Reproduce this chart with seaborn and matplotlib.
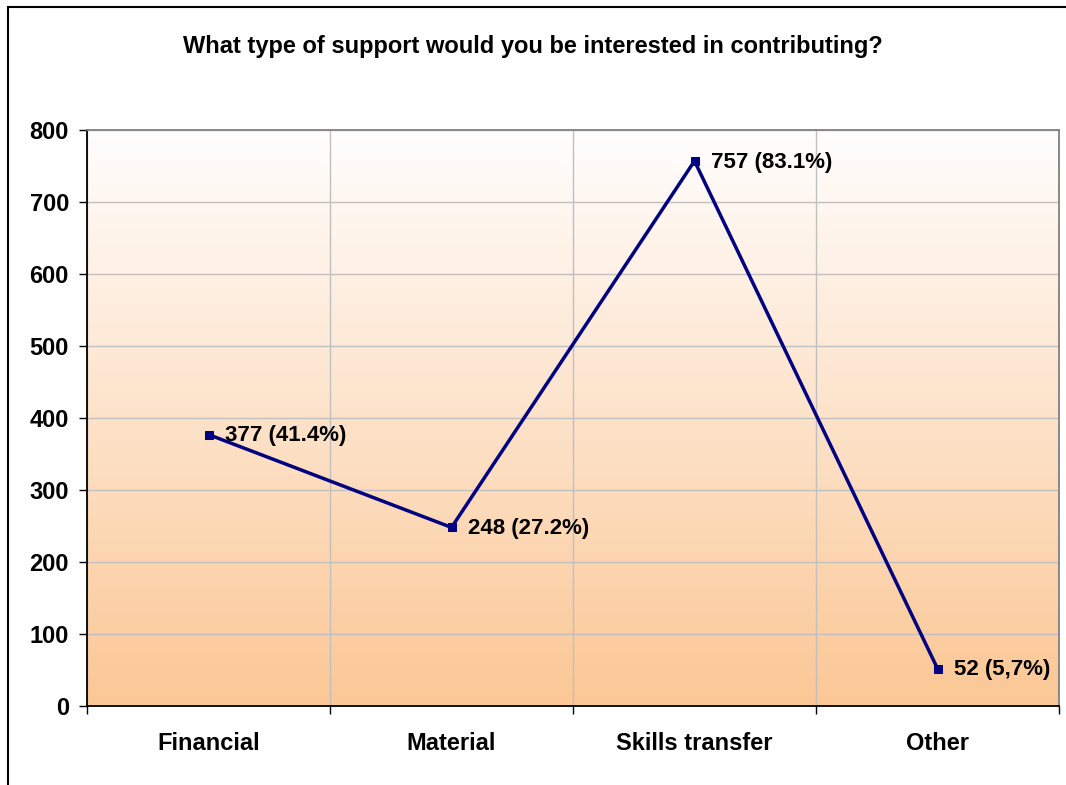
import numpy as np
import pandas as pd
import seaborn as sns
import matplotlib.pyplot as plt
from matplotlib.colors import LinearSegmentedColormap
from matplotlib.patches import Rectangle

# chart data
categories = ['Financial', 'Material', 'Skills transfer', 'Other']
counts = [377, 248, 757, 52]
labels = ['377 (41.4%)', '248 (27.2%)', '757 (83.1%)', '52 (5,7%)']

df = pd.DataFrame({'category': categories, 'count': counts, 'pos': range(len(categories))})

sns.set_style('white')
plt.rcParams['font.family'] = ['Liberation Sans', 'DejaVu Sans']
plt.rcParams['text.color'] = 'black'
plt.rcParams['xtick.color'] = 'black'
plt.rcParams['ytick.color'] = 'black'

fig = plt.figure(figsize=(10.66, 7.85), dpi=100)
ax = fig.add_axes([87 / 1066, 1 - 706 / 785, 972 / 1066, 576 / 785])

# outer chart border (only top and left visible)
fig.patches.append(Rectangle((8 / 1066, -0.1), 1.2, 1 - 7 / 785 + 0.1,
                             transform=fig.transFigure, fill=False,
                             edgecolor='black', linewidth=1.5))

# gradient background: white at top, peach at bottom
cmap = LinearSegmentedColormap.from_list('peach', ['#fbc795', '#fffefe'])
grad = np.linspace(0, 1, 256).reshape(-1, 1)
ax.imshow(grad, aspect='auto', cmap=cmap, origin='lower',
          extent=[-0.5, 3.5, 0, 800], zorder=0)

sns.lineplot(data=df, x='pos', y='count', ax=ax, color='#000080', linewidth=2.5,
             marker='s', markersize=6, markeredgecolor='#000080', zorder=3)

for x, y, t in zip(df['pos'], counts, labels):
    ax.annotate(t, (x, y), xytext=(12, -1), textcoords='offset points',
                ha='left', va='center', fontsize=16, fontweight='bold', zorder=4)

ax.set_xlim(-0.5, 3.5)
ax.set_ylim(0, 800)
ax.set_yticks(range(0, 801, 100))
ax.set_xticks([-0.5, 0.5, 1.5, 2.5, 3.5])
ax.set_xticklabels([])
ax.set_xticks(range(4), minor=True)
ax.set_xticklabels(categories, minor=True, fontsize=17, fontweight='bold')
ax.tick_params(axis='x', which='minor', bottom=False, length=0, pad=19)
ax.tick_params(axis='x', which='major', bottom=True, direction='out', length=6, width=1)
ax.tick_params(axis='y', left=True, direction='out', length=6, width=1,
               labelsize=17, pad=7)
for lab in ax.get_yticklabels():
    lab.set_fontweight('bold')

ax.grid(True, which='major', color='#c0c0c0', linewidth=1)
ax.set_axisbelow(False)
for gl in ax.get_xgridlines() + ax.get_ygridlines():
    gl.set_zorder(1)

ax.spines['left'].set_color('black')
ax.spines['bottom'].set_color('black')
ax.spines['top'].set_color('#808080')
ax.spines['right'].set_color('#808080')
for s in ax.spines.values():
    s.set_linewidth(1.3)
    s.set_zorder(5)

ax.set_xlabel('')
ax.set_ylabel('')
fig.text(0.5, 1 - 47 / 785, 'What type of support would you be interested in contributing?',
         ha='center', va='center', fontsize=17, fontweight='bold')

fig.savefig('out.png', dpi=100)
